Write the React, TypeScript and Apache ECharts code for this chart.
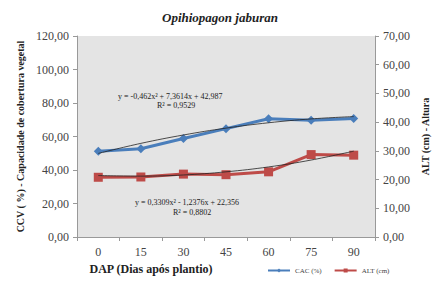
import React, { useEffect, useRef } from "react";
import * as echarts from "echarts";

const categories = ["0", "15", "30", "45", "60", "75", "90"];
const cac = [51.2, 52.7, 58.8, 64.7, 70.6, 69.7, 70.7];
const alt = [20.8, 20.9, 21.9, 21.7, 22.7, 28.7, 28.5];
const cacTrend = [49.9, 55.9, 60.9, 65.0, 68.2, 70.5, 71.9];
const altTrend = [21.4, 21.2, 21.6, 22.7, 24.4, 26.8, 29.9];
const leftTicks = { min: 0, max: 120, interval: 20 };
const rightTicks = { min: 0, max: 70, interval: 10 };

const serif = "Liberation Serif";
const fmt = (v: number) => v.toFixed(2).replace(".", ",");

export default function App() {
  const ref = useRef<HTMLDivElement>(null);
  useEffect(() => {
    if (!ref.current) return;
    const chart = echarts.init(ref.current, undefined, { renderer: "svg" });
    chart.setOption({
      animation: false,
      backgroundColor: "#ffffff",
      title: {
        text: "Opihiopagon jaburan",
        left: "center",
        top: 6,
        textStyle: { fontFamily: serif, fontSize: 13, fontWeight: "bold", fontStyle: "italic", color: "#222" },
      },
      grid: { left: 77, right: 65, top: 36, bottom: 45, show: true, backgroundColor: "#e4e4e4", borderWidth: 0 },
      legend: {
        left: 262,
        top: 262,
        itemWidth: 22,
        itemHeight: 5,
        itemGap: 12,
        textStyle: { fontFamily: serif, fontSize: 7, color: "#444" },
        data: [{ name: "CAC (%)" }, { name: "ALT (cm)" }],
      },
      xAxis: {
        type: "category",
        data: categories,
        boundaryGap: true,
        name: "DAP (Dias após plantio)",
        nameLocation: "middle",
        nameGap: 24,
        nameTextStyle: { fontFamily: serif, fontSize: 12, fontWeight: "bold", color: "#222", padding: [0, 0, 0, -150] },
        axisLine: { lineStyle: { color: "#999" } },
        axisTick: { show: true, alignWithLabel: false, length: 4, lineStyle: { color: "#999" } },
        axisLabel: { fontFamily: serif, fontSize: 12, color: "#444", margin: 9 },
        splitLine: { show: false },
      },
      yAxis: [
        {
          type: "value",
          ...leftTicks,
          name: "CCV ( %) - Capacidade de cobertura vegetal",
          nameLocation: "middle",
          nameRotate: 90,
          nameGap: 52,
          nameTextStyle: { fontFamily: serif, fontSize: 10, fontWeight: "bold", color: "#222" },
          axisLine: { show: true, lineStyle: { color: "#999" } },
          axisTick: { show: true, length: 4, lineStyle: { color: "#999" } },
          axisLabel: { fontFamily: serif, fontSize: 12, color: "#444", margin: 8, formatter: fmt },
          splitLine: { show: false },
        },
        {
          type: "value",
          ...rightTicks,
          position: "right",
          name: "ALT (cm) - Altura",
          nameLocation: "middle",
          nameRotate: 90,
          nameGap: 44,
          nameTextStyle: { fontFamily: serif, fontSize: 10, fontWeight: "bold", color: "#222" },
          axisLine: { show: true, lineStyle: { color: "#999" } },
          axisTick: { show: true, length: 4, lineStyle: { color: "#999" } },
          axisLabel: { fontFamily: serif, fontSize: 12, color: "#444", margin: 8, formatter: fmt },
          splitLine: { show: false },
        },
      ],
      series: [
        {
          name: "CAC (%)",
          type: "line",
          yAxisIndex: 0,
          data: cac,
          symbol: "diamond",
          symbolSize: 9,
          lineStyle: { color: "#4a7ebb", width: 3 },
          itemStyle: { color: "#4a7ebb" },
          z: 2,
        },
        {
          name: "ALT (cm)",
          type: "line",
          yAxisIndex: 1,
          data: alt,
          symbol: "rect",
          symbolSize: 9,
          lineStyle: { color: "#be4b48", width: 3 },
          itemStyle: { color: "#be4b48" },
          z: 2,
        },
        {
          name: "trendCAC",
          type: "line",
          yAxisIndex: 0,
          data: cacTrend,
          smooth: 0.4,
          symbol: "none",
          lineStyle: { color: "#222", width: 0.8 },
          z: 3,
          silent: true,
        },
        {
          name: "trendALT",
          type: "line",
          yAxisIndex: 1,
          data: altTrend,
          smooth: 0.4,
          symbol: "none",
          lineStyle: { color: "#222", width: 0.8 },
          z: 3,
          silent: true,
        },
      ],
      graphic: [
        { type: "text", left: 118, top: 92, style: { text: "y = -0,462x² + 7,3614x + 42,987", fontFamily: serif, fontSize: 8, fill: "#222" } },
        { type: "text", left: 157, top: 101, style: { text: "R² = 0,9529", fontFamily: serif, fontSize: 8, fill: "#222" } },
        { type: "text", left: 135, top: 198, style: { text: "y = 0,3309x² - 1,2376x + 22,356", fontFamily: serif, fontSize: 8, fill: "#222" } },
        { type: "text", left: 173, top: 208, style: { text: "R² = 0,8802", fontFamily: serif, fontSize: 8, fill: "#222" } },
      ],
    });
    return () => chart.dispose();
  }, []);
  return <div ref={ref} style={{ width: 440, height: 282, position: "absolute", left: 0, top: 0 }} />;
}
